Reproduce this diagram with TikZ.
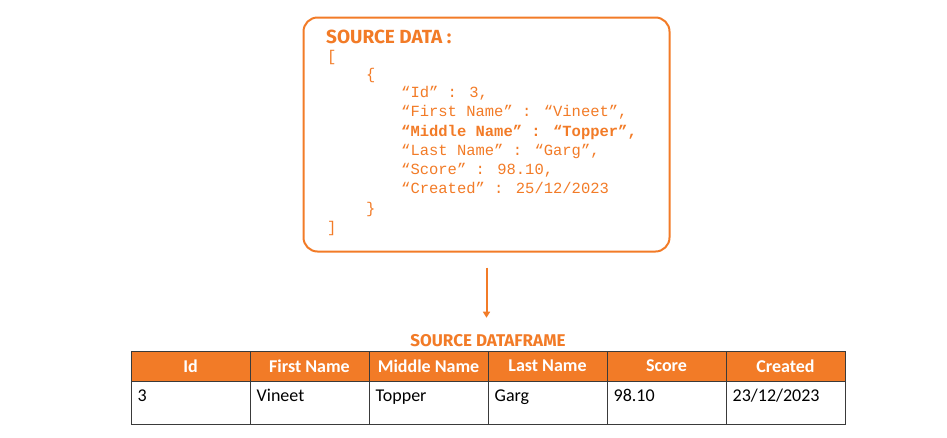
\documentclass[tikz,border=0pt]{standalone}
\usepackage{fontspec}
\setmainfont{Carlito}
\newfontfamily\monofont{Liberation Mono}
\newfontfamily\headfont{Fira Sans}
\usetikzlibrary{arrows.meta}
\definecolor{srcorange}{HTML}{F27B27}
\definecolor{gridgray}{HTML}{3A3A3A}
\newcommand{\cellw}{119pt}

\begin{document}
\begin{tikzpicture}[x=1pt,y=-1pt]
    \useasboundingbox (0,0) rectangle (947,437);

    % source data box
    \node[draw=srcorange,line width=2pt,rounded corners=14pt,
          minimum width=366pt,minimum height=234pt] (src) at (486.5,134.5) {};
    \node[anchor=base west,inner sep=0pt,text=srcorange,font=\headfont\bfseries\fontsize{19}{22}\selectfont] (srctitle) at (326,43) {SOURCE DATA :};

    \begin{scope}[every node/.style={anchor=base west,inner sep=0pt,text=srcorange,font=\monofont\fontsize{15.5}{18}\selectfont}]
        \node (ob) at (327,61) {[};
        \node (cb) at (366,79) {\{};
        \node (l1) at (401,97.5) {“Id” : 3,};
        \node (l2) at (401,116.8) {“First Name” : “Vineet”,};
        \node[font=\monofont\bfseries\fontsize{15.5}{18}\selectfont] (l3) at (401,136) {“Middle Name” : “Topper”,};
        \node (l4) at (401,155.2) {“Last Name” : “Garg”,};
        \node (l5) at (401,174.4) {“Score” : 98.10,};
        \node (l6) at (401,193.6) {“Created” : 25/12/2023};
        \node (ce) at (366,213) {\}};
        \node (oe) at (327,232) {]};
    \end{scope}

    % dataframe title
    \node[anchor=base,inner sep=0pt,text=srcorange,font=\headfont\bfseries\fontsize{17}{20}\selectfont] (dftitle) at (488,346) {SOURCE DATAFRAME};

    \draw[srcorange,line width=2pt,-{Triangle[length=6pt,width=7pt]},shorten <=15pt,shorten >=16pt]
        (src.south) -- (src.south |- dftitle.north);

    % table
    \begin{scope}[every node/.style={draw=gridgray,line width=1pt,minimum width=\cellw,inner sep=0pt}]
        \node[fill=srcorange,minimum height=30pt,text=white,font=\bfseries\fontsize{18}{20}\selectfont] (h1) at (190.5,366) {\raisebox{-1.5pt}{Id}};
        \node[fill=srcorange,minimum height=30pt,text=white,font=\bfseries\fontsize{18}{20}\selectfont] (h2) at (309.5,366) {\raisebox{-1.5pt}{First Name}};
        \node[fill=srcorange,minimum height=30pt,text=white,font=\bfseries\fontsize{18}{20}\selectfont] (h3) at (428.5,366) {\raisebox{-1.5pt}{Middle Name}};
        \node[fill=srcorange,minimum height=30pt,text=white,font=\bfseries\fontsize{18}{20}\selectfont] (h4) at (547.5,366) {\raisebox{-1.5pt}{Last Name}};
        \node[fill=srcorange,minimum height=30pt,text=white,font=\bfseries\fontsize{18}{20}\selectfont] (h5) at (666.5,366) {\raisebox{-1.5pt}{Score}};
        \node[fill=srcorange,minimum height=30pt,text=white,font=\bfseries\fontsize{18}{20}\selectfont] (h6) at (785.5,366) {\raisebox{-1.5pt}{Created}};

        \node[minimum height=43pt] (d1) at (190.5,402.5) {};
        \node[minimum height=43pt] (d2) at (309.5,402.5) {};
        \node[minimum height=43pt] (d3) at (428.5,402.5) {};
        \node[minimum height=43pt] (d4) at (547.5,402.5) {};
        \node[minimum height=43pt] (d5) at (666.5,402.5) {};
        \node[minimum height=43pt] (d6) at (785.5,402.5) {};
    \end{scope}

    \begin{scope}[every node/.style={anchor=base west,inner sep=0pt,font=\fontsize{18}{20}\selectfont}]
        \node (t1) at ([shift={(7,21)}]d1.north west) {3};
        \node (t2) at ([shift={(7,21)}]d2.north west) {Vineet};
        \node (t3) at ([shift={(7,21)}]d3.north west) {Topper};
        \node (t4) at ([shift={(7,21)}]d4.north west) {Garg};
        \node (t5) at ([shift={(7,21)}]d5.north west) {98.10};
        \node (t6) at ([shift={(7,21)}]d6.north west) {23/12/2023};
    \end{scope}
\end{tikzpicture}
\end{document}
